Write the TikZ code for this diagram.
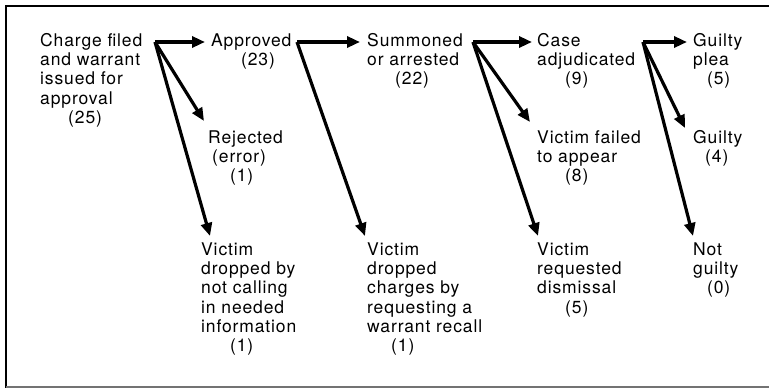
\documentclass[tikz,border=0pt]{standalone}
\usepackage{fontspec}
\setmainfont[LetterSpace=5]{TeX Gyre Heros}
\usetikzlibrary{arrows.meta,calc}
\newcommand{\topstrut}{\rule{0pt}{14pt}}
\begin{document}
\begin{tikzpicture}[x=1pt,y=-1pt,
  lbl/.style={anchor=north west,inner sep=0pt,align=left,font={\fontsize{17.5}{19.3}\selectfont}},
  flow/.style={line width=3.2pt,-{Triangle[length=13pt,width=11pt]}},
  frame/.style={line width=2pt}]
\useasboundingbox (0,0) rectangle (769,389);
\draw[frame] (769,6) -- (6,6) -- (6,388);
\draw[frame,black!55] (6,387) -- (769,387);

\node[lbl] (charge) at (40,32) {\topstrut Charge filed\\and warrant\\issued for\\approval\\\hspace*{28pt}(25)};
\node[lbl] (app) at (211,32) {\topstrut Approved\\\hspace*{30pt}(23)};
\node[lbl] (rej) at (208,129) {\topstrut Rejected\\\hspace*{4pt}(error)\\\hspace*{22pt}(1)};
\node[lbl] (vdrop) at (201,241) {\topstrut Victim\\dropped by\\not calling\\in needed\\information\\\hspace*{29pt}(1)};
\node[lbl] (summ) at (367,32) {\topstrut Summoned\\or arrested\\\hspace*{28pt}(22)};
\node[lbl] (vrecall) at (367,241) {\topstrut Victim\\dropped\\charges by\\requesting a\\warrant recall\\\hspace*{24pt}(1)};
\node[lbl] (case) at (537,32) {\topstrut Case\\adjudicated\\\hspace*{28pt}(9)};
\node[lbl] (vfail) at (537,129) {\topstrut Victim failed\\to appear\\\hspace*{28pt}(8)};
\node[lbl] (vreq) at (537,241) {\topstrut Victim\\requested\\dismissal\\\hspace*{28pt}(5)};
\node[lbl] (gplea) at (693,32) {\topstrut Guilty\\plea\\\hspace*{14pt}(5)};
\node[lbl] (guilty) at (693,129) {\topstrut Guilty\\\hspace*{12pt}(4)};
\node[lbl] (notg) at (693,241) {\topstrut Not\\guilty\\\hspace*{14pt}(0)};

\coordinate (o1) at (155,42);
\coordinate (o2) at (297,42);
\coordinate (o3) at (473,42);
\coordinate (o4) at (643,42);

\draw[flow] (o1) -- ($(app.north west)+(-6,10)$);
\draw[flow] (o1) -- ($(rej.north west)+(-4,-8)$);
\draw[flow] (o1) -- ($(vdrop.north west)+(9,-5)$);
\draw[flow] (o2) -- ($(summ.north west)+(-7,10)$);
\draw[flow] (o2) -- ($(vrecall.north west)+(-2,-5)$);
\draw[flow] (o3) -- ($(case.north west)+(-5,10)$);
\draw[flow] (o3) -- ($(vfail.north west)+(-7,-7)$);
\draw[flow] (o3) -- ($(vreq.north west)+(1,-5)$);
\draw[flow] (o4) -- ($(gplea.north west)+(-6,10)$);
\draw[flow] (o4) -- ($(guilty.north west)+(-8,-1)$);
\draw[flow] (o4) -- ($(notg.north west)+(0,-5)$);
\end{tikzpicture}
\end{document}
